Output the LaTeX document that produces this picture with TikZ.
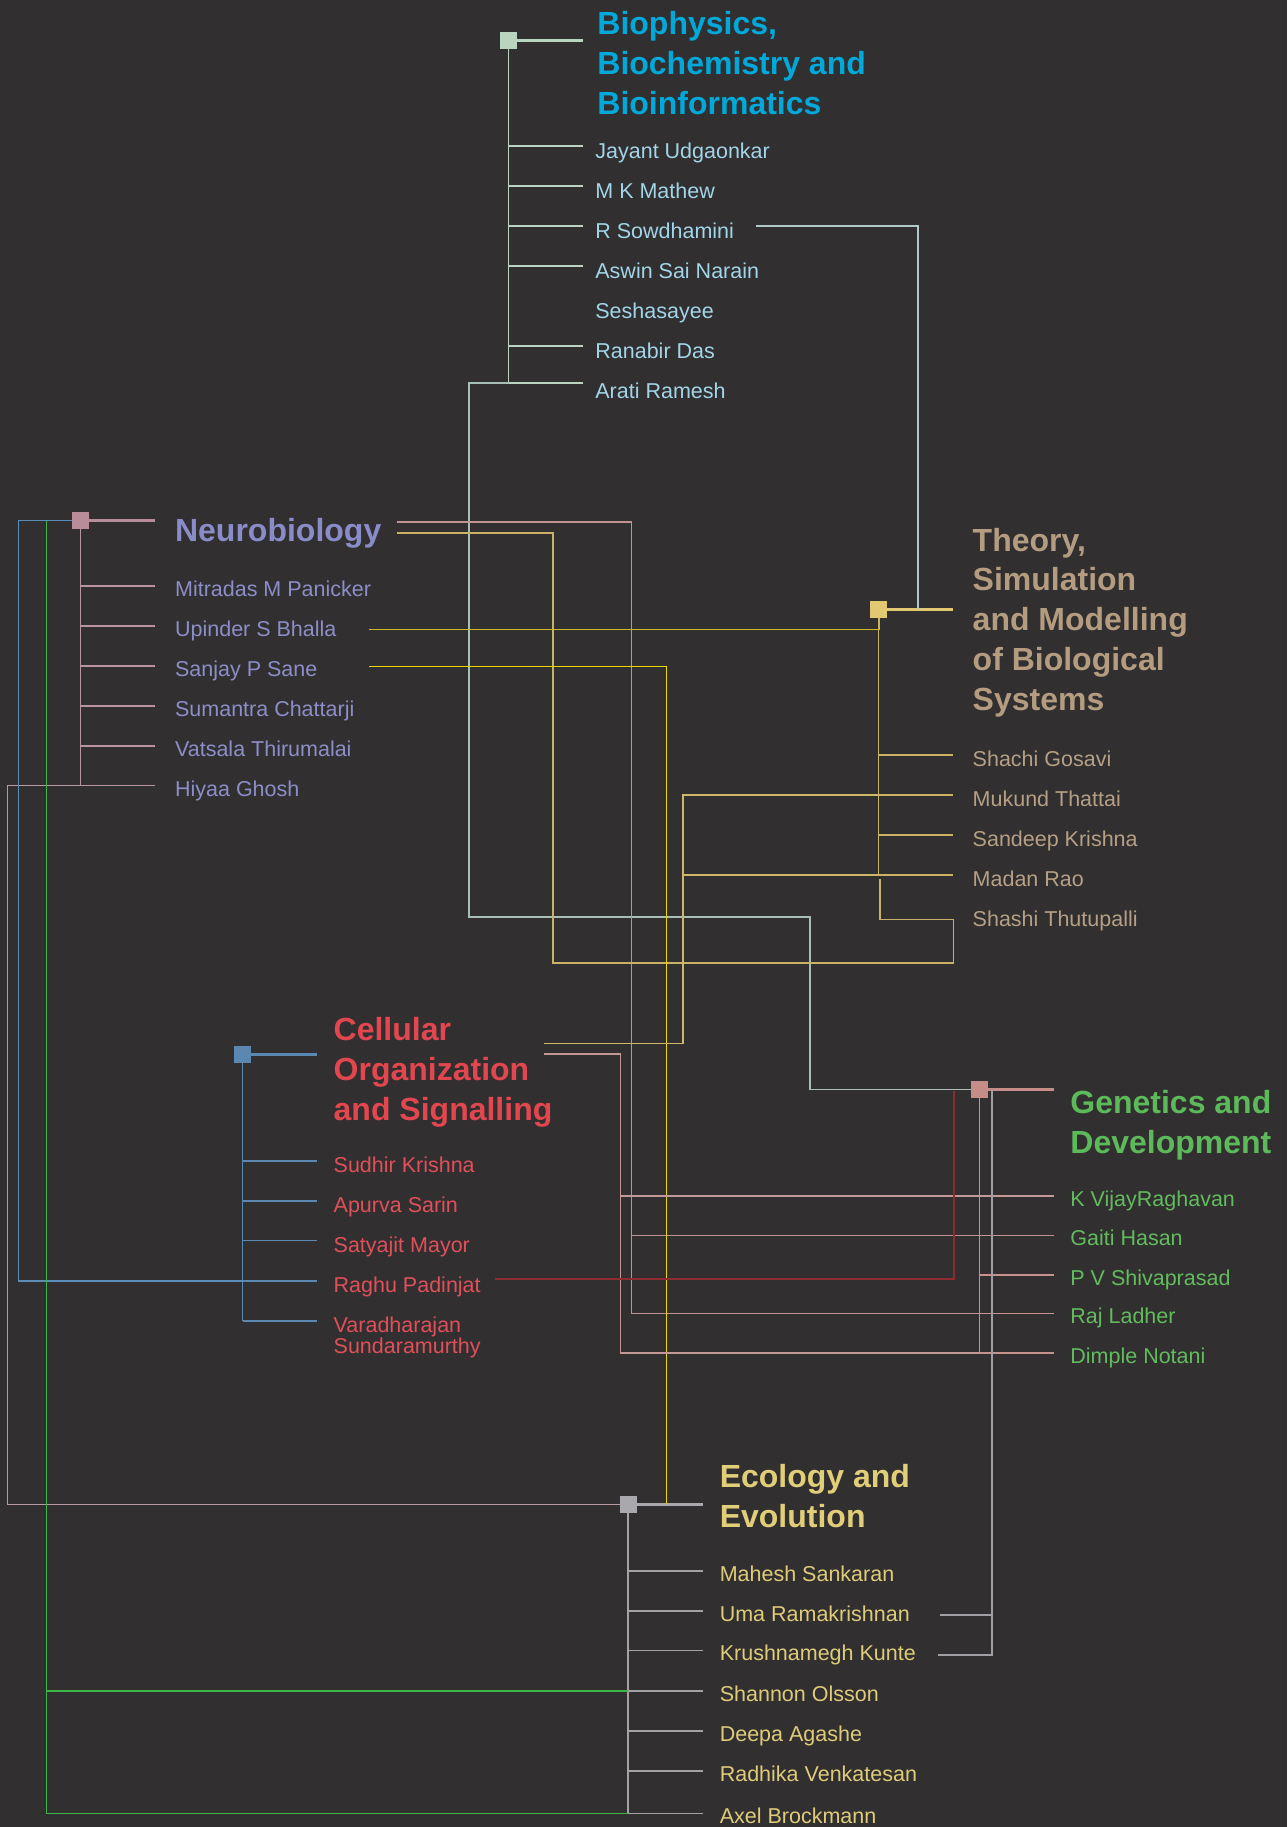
\documentclass[tikz,border=0pt]{standalone}
\usepackage{fontspec}
\setmainfont{Liberation Sans}
\usetikzlibrary{calc}
\definecolor{bg}{HTML}{312F30}
% group colours
\definecolor{bioSq}{HTML}{B9D4BF}\definecolor{bioL}{HTML}{BCD3C2}\definecolor{bioT}{HTML}{00A9D9}\definecolor{bioM}{HTML}{A3D5E8}
\definecolor{nbSq}{HTML}{B88C98}\definecolor{nbL}{HTML}{B8949E}\definecolor{nbT}{HTML}{8A8CC9}\definecolor{nbM}{HTML}{8C8EC8}
\definecolor{thSq}{HTML}{E2C871}\definecolor{thL}{HTML}{C9B466}\definecolor{thT}{HTML}{B39C80}\definecolor{thM}{HTML}{B5A086}
\definecolor{ceSq}{HTML}{5A88B0}\definecolor{ceL}{HTML}{5A88B0}\definecolor{ceT}{HTML}{E2474F}\definecolor{ceM}{HTML}{E0505A}
\definecolor{gnSq}{HTML}{C68C88}\definecolor{gnL}{HTML}{C7928E}\definecolor{gnT}{HTML}{5DBA5A}\definecolor{gnM}{HTML}{62BC5E}
\definecolor{ecSq}{HTML}{A9A9AD}\definecolor{ecL}{HTML}{A3A3A6}\definecolor{ecT}{HTML}{E0CE78}\definecolor{ecM}{HTML}{DECC7A}
% cross-link colours
\definecolor{sowC}{HTML}{B0C8C8}\definecolor{araC}{HTML}{A9BFB5}
\definecolor{pinkC}{HTML}{BF9393}\definecolor{oliveC}{HTML}{C8B266}
\definecolor{upiC}{HTML}{CDBA22}\definecolor{sanC}{HTML}{EAD600}
\definecolor{hiyC}{HTML}{B89CA4}\definecolor{blueC}{HTML}{5A8DB8}
\definecolor{greenC}{HTML}{3BB648}\definecolor{ceYC}{HTML}{CDB86A}
\definecolor{cePC}{HTML}{C49896}\definecolor{redC}{HTML}{8E2A31}
\definecolor{grayC}{HTML}{A0A0A4}
\begin{document}
\begin{tikzpicture}[x=0.5pt,y=-0.5pt,
  mem/.style={anchor=base west, inner sep=0pt, font=\fontsize{10.75pt}{13pt}\selectfont},
  ttl/.style={anchor=base west, inner sep=0pt, font=\fontsize{16pt}{20pt}\selectfont\bfseries},
  sqbox/.style={minimum size=8.5pt, inner sep=0pt, draw=none},
  ln/.style={line width=0.8pt},
  hd/.style={line width=1.5pt}]
\fill[bg] (0,0) rectangle (1287,1827);
\useasboundingbox (0,0) rectangle (1287,1827);

% ---------- square positions (nodes drawn later on top) ----------
\coordinate (bioP) at (508.5,40.5);
\coordinate (nbP) at (80.3,520.5);
\coordinate (thP) at (878.3,609.3);
\coordinate (ceP) at (242.5,1054.3);
\coordinate (gnP) at (979.5,1089.5);
\coordinate (ecP) at (628,1504.3);

% ---------- Biophysics ----------
\node[ttl,text=bioT] (bioT1) at (597,34) {Biophysics,};
\node[ttl,text=bioT] (bioT2) at (597,74) {Biochemistry and};
\node[ttl,text=bioT] (bioT3) at (597,114) {Bioinformatics};
\coordinate (bioH) at (583,40.5);
\foreach \n/\t/\y in {jay/Jayant Udgaonkar/145.7, mkm/M K Mathew/185.7, sow/R Sowdhamini/225.7,
  asn/Aswin Sai Narain/265.7, rdas/Ranabir Das/345.7}{
  \node[mem,text=bioM] (\n) at (595,\y+12.5) {\t};
  \coordinate (\n-e) at (583,\y);
  \draw[ln,bioL] (bioP |- \n-e) -- (\n-e);
}
\node[mem,text=bioM] (ses) at (595,318.3) {Seshasayee};
\node[mem,text=bioM] (ara) at (595,398.3) {Arati Ramesh};
\coordinate (ara-e) at (583,383);
\draw[ln,bioL] (bioP |- ara-e) -- (ara-e);
\draw[ln,bioL] (bioP) -- (bioP |- ara-e);
\draw[hd,bioSq] (bioP) -- (bioH);

% ---------- Neurobiology ----------
\node[ttl,text=nbT] (nbT1) at (174.7,541.7) {Neurobiology};
\coordinate (nbH) at (155,520.5);
\foreach \n/\t/\y in {mit/Mitradas M Panicker/586, upi/Upinder S Bhalla/626, san/Sanjay P Sane/665.7,
  sum/Sumantra Chattarji/706, vat/Vatsala Thirumalai/746, hiy/Hiyaa Ghosh/785.3}{
  \node[mem,text=nbM] (\n) at (174.7,\y+10.7) {\t};
  \coordinate (\n-e) at (155,\y);
  \draw[ln,nbL] (nbP |- \n-e) -- (\n-e);
}
\draw[ln,nbL] (nbP) -- (nbP |- hiy-e);
\draw[hd,nbSq] (nbP) -- (nbH);

% ---------- Theory ----------
\node[ttl,text=thT] (thT1) at (972.3,551.7) {Theory,};
\node[ttl,text=thT] (thT2) at (972.3,590.7) {Simulation};
\node[ttl,text=thT] (thT3) at (972.3,630.7) {and Modelling};
\node[ttl,text=thT] (thT4) at (972.3,670.7) {of Biological};
\node[ttl,text=thT] (thT5) at (972.3,710.7) {Systems};
\coordinate (thH) at (953,609.3);
\foreach \n/\t/\y in {sha/Shachi Gosavi/754.7, muk/Mukund Thattai/794.7, snd/Sandeep Krishna/834.7,
  mad/Madan Rao/874.7}{
  \node[mem,text=thM] (\n) at (972.3,\y+11.5) {\t};
  \coordinate (\n-e) at (953,\y);
  \draw[ln,thL] (thP |- \n-e) -- (\n-e);
}
\node[mem,text=thM] (shs) at (972.3,926.7) {Shashi Thutupalli};
\draw[ln,thL] (thP) -- (thP |- mad-e);
\draw[hd,thSq] (thP) -- (thH);

% ---------- Cellular ----------
\node[ttl,text=ceT] (ceT1) at (333.3,1040) {Cellular};
\node[ttl,text=ceT] (ceT2) at (333.3,1080) {Organization};
\node[ttl,text=ceT] (ceT3) at (333.3,1120) {and Signalling};
\coordinate (ceH) at (317,1054.3);
\foreach \n/\t/\y in {sud/Sudhir Krishna/1160.7, apu/Apurva Sarin/1200.7, sat/Satyajit Mayor/1240.5,
  rag/Raghu Padinjat/1280.7, var/Varadharajan/1320.7}{
  \node[mem,text=ceM] (\n) at (333.3,\y+11.8) {\t};
  \coordinate (\n-e) at (317,\y);
  \draw[ln,ceL] (ceP |- \n-e) -- (\n-e);
}
\node[mem,text=ceM] (var2) at (333.3,1353.3) {Sundaramurthy};
\draw[ln,ceL] (ceP) -- (ceP |- var-e);
\draw[hd,ceSq] (ceP) -- (ceH);

% ---------- Genetics ----------
\node[ttl,text=gnT] (gnT1) at (1070,1113) {Genetics and};
\node[ttl,text=gnT] (gnT2) at (1070,1153) {Development};
\coordinate (gnH) at (1054,1089.5);
\foreach \n/\t/\y in {kvr/K VijayRaghavan/1195.7, gai/Gaiti Hasan/1235.3, pvs/P V Shivaprasad/1275,
  raj/Raj Ladher/1313.3, dim/Dimple Notani/1352.7}{
  \node[mem,text=gnM] (\n) at (1070,\y+10.3) {\t};
  \coordinate (\n-e) at (1054,\y);
  \draw[ln,gnL] (gnP |- \n-e) -- (\n-e);
}
\draw[ln,gnL] (gnP) -- (gnP |- dim-e);
\draw[hd,gnSq] (gnP) -- (gnH);

% ---------- Ecology ----------
\node[ttl,text=ecT] (ecT1) at (719.4,1487) {Ecology and};
\node[ttl,text=ecT] (ecT2) at (719.4,1527) {Evolution};
\coordinate (ecH) at (703,1504.3);
\foreach \n/\t/\y in {mah/Mahesh Sankaran/1570.7, uma/Uma Ramakrishnan/1610.7, kru/Krushnamegh Kunte/1650.3,
  sho/Shannon Olsson/1690.7, dee/Deepa Agashe/1730.7, rad/Radhika Venkatesan/1771, axe/Axel Brockmann/1813.3}{
  \node[mem,text=ecM] (\n) at (719.4,\y+10.3) {\t};
  \coordinate (\n-e) at (703,\y);
  \draw[ln,ecL] (ecP |- \n-e) -- (\n-e);
}
\draw[ln,ecL] (ecP) -- (ecP |- axe-e);
\draw[hd,ecSq] (ecP) -- (ecH);

% ---------- cross links ----------
% R Sowdhamini -> Theory
\coordinate (sowR) at (756,225.7);
\coordinate (sowD) at (917.7,609.3);
\draw[ln,sowC] (sowR) -| (sowD);
% Arati Ramesh -> Genetics
\coordinate (araL) at (469,383);
\coordinate (araB) at (469,916.7);
\coordinate (araM) at (810,916.7);
\draw[ln,araC] (bioP |- ara-e) -- (araL) -- (araB) -- (araM) |- (gnP);
% Neurobiology -> Raj Ladher / Gaiti Hasan
\coordinate (nbR1) at (396.7,522);
\coordinate (nbV) at (631.5,522);
\draw[ln,pinkC] (nbR1) -- (nbV) |- (gnP |- raj-e);
\draw[ln,pinkC] (nbV |- gai-e) -- (gai-e);
% Neurobiology -> Shashi Thutupalli (olive)
\coordinate (nbR2) at (396.7,532.7);
\coordinate (olA) at (552.7,962.7);
\coordinate (olB) at (953.3,919.3);
\coordinate (olC) at (880,879);
\draw[ln,oliveC] (nbR2) -| (olA) -| (olB) -| (olC);
% Upinder S Bhalla -> Theory
\coordinate (upR) at (369,629.5);
\coordinate (thBot) at (879.5,617.8);
\draw[ln,upiC] (upR) -| (thBot);
% Sanjay P Sane -> Ecology
\coordinate (saR) at (369,666.3);
\coordinate (saD) at (666.3,1504.3);
\draw[ln,sanC] (saR) -| (saD);
% Hiyaa Ghosh -> Ecology
\coordinate (hiL) at (7.3,785.3);
\draw[ln,hiyC] (nbP |- hiy-e) -- (hiL) |- (ecP);
% Neurobiology -> Raghu Padinjat (blue)
\coordinate (blL) at (18.3,520.5);
\draw[ln,blueC] (nbP) -- (blL) |- (ceP |- rag-e);
% Neurobiology -> Shannon Olsson / Axel Brockmann (green)
\coordinate (grT) at (46.3,520.5);
\draw[ln,greenC] (grT) |- (ecP |- axe-e);
\draw[ln,greenC] (grT |- sho-e) -- (ecP |- sho-e);
% Cellular -> Mukund Thattai / Madan Rao
\coordinate (ceR1) at (544,1043.3);
\coordinate (ceY) at (682.7,1043.3);
\draw[ln,ceYC] (ceR1) -- (ceY) |- (thP |- muk-e);
\draw[ln,ceYC] (ceY |- mad-e) -- (thP |- mad-e);
% Cellular -> Dimple Notani / K VijayRaghavan
\coordinate (ceR2) at (544,1054);
\coordinate (cePk) at (620.6,1054);
\draw[ln,cePC] (ceR2) -- (cePk) |- (gnP |- dim-e);
\draw[ln,cePC] (cePk |- kvr-e) -- (kvr-e);
% Raghu Padinjat -> Genetics (dark red)
\coordinate (ragR) at (495,1279);
\coordinate (ragU) at (954,1090.7);
\draw[ln,redC] (ragR) -| (ragU);
% Uma Ramakrishnan / Krushnamegh Kunte -> Genetics (gray)
\coordinate (umaR) at (940,1614.7);
\coordinate (kruR) at (938,1654.7);
\coordinate (gyT) at (991.7,1089.5);
\draw[ln,grayC] (gyT) |- (kruR);
\draw[ln,grayC] (umaR) -- (gyT |- umaR);

% ---------- squares ----------
\node[sqbox,fill=bioSq] (bioS) at (bioP) {};
\node[sqbox,fill=nbSq] (nbS) at (nbP) {};
\node[sqbox,fill=thSq] (thS) at (thP) {};
\node[sqbox,fill=ceSq] (ceS) at (ceP) {};
\node[sqbox,fill=gnSq] (gnS) at (gnP) {};
\node[sqbox,fill=ecSq] (ecS) at (ecP) {};
\end{tikzpicture}
\end{document}
